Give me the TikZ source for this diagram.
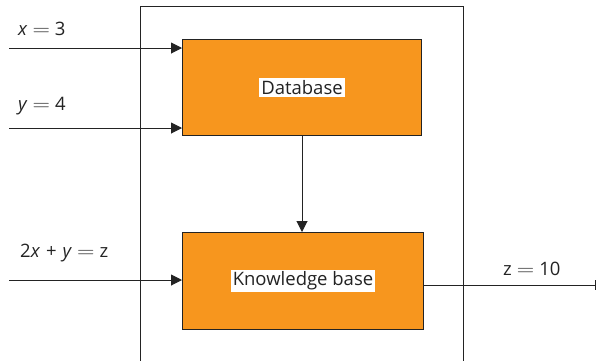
\documentclass[tikz,border=0pt]{standalone}
\usepackage{fontspec}
\usepackage{graphicx}
\setmainfont{Open Sans}
\usetikzlibrary{arrows.meta}
\definecolor{boxorange}{RGB}{247,150,30}
\definecolor{linegray}{RGB}{35,35,35}
\newcommand{\eqs}{\hspace{5pt}\scalebox{1.4}[1.15]{$=$}\hspace{5pt}}
\tikzset{
  procbox/.style={draw=linegray, line width=1pt, fill=boxorange, anchor=north west, inner sep=0pt},
  boxlabel/.style={fill=white, inner sep=2pt, text=linegray, font=\fontsize{18.5}{21}\selectfont},
  varlabel/.style={text=linegray, anchor=base west, inner sep=0pt, font=\fontsize{18.5}{21}\selectfont},
  flow/.style={draw=linegray, line width=1pt, -{Triangle[length=11pt,width=11pt]}},
  wall/.style={draw=linegray, line width=1pt},
}
\begin{document}
\begin{tikzpicture}[x=1pt,y=-1pt]
\useasboundingbox (0,0) rectangle (596,360);
% outer frame (open at bottom)
\draw[wall] (140,362) -- (140,6) -- (463,6) -- (463,362);
% boxes
\node[procbox, minimum width=239pt, minimum height=96pt] (db) at (182,39) {};
\node[boxlabel] (dblab) at (db.center) {Database};
\node[procbox, minimum width=241pt, minimum height=97pt] (kb) at (182,232) {};
\node[boxlabel] (kblab) at (kb.center) {Knowledge base};
% inputs
\coordinate (in1) at (9,48);
\coordinate (in2) at (9,128);
\coordinate (in3) at (9,280);
\coordinate (out) at (596,285);
\draw[flow] (in1) -- (db.west |- in1);
\draw[flow] (in2) -- (db.west |- in2);
\draw[flow] (in3) -- (kb.west |- in3);
\draw[flow] (db.south -| 302,0) -- (kb.north -| 302,0);
\draw[draw=linegray, line width=1pt, -{Bar[width=10pt]}] (kb.east |- out) -- (out);
% labels
\node[varlabel] (l1) at (18,35) {\textit{x}\eqs 3};
\node[varlabel] (l2) at (18,110) {\textit{y}\eqs 4};
\node[varlabel] (l3) at (20,257) {2\textit{x}\hspace{6pt}+\hspace{6pt}\textit{y}\eqs z};
\node[varlabel] (l4) at (503,275) {z\eqs 10};
\end{tikzpicture}
\end{document}
